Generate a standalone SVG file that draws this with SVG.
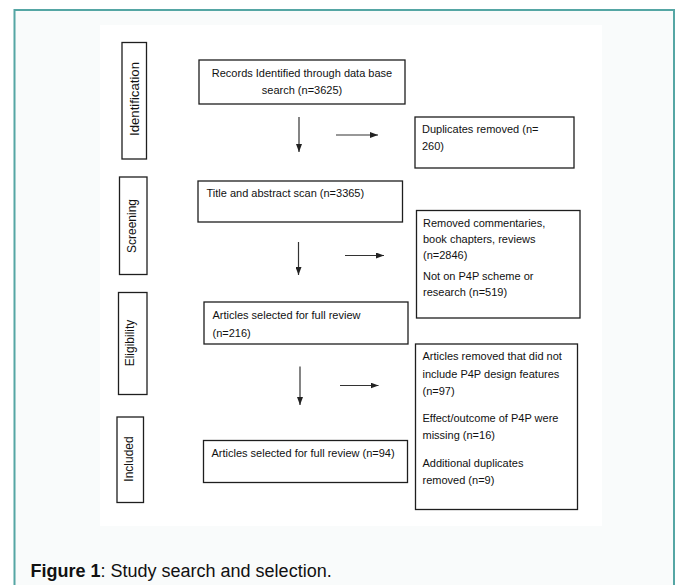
<svg xmlns="http://www.w3.org/2000/svg" width="678" height="585" viewBox="0 0 678 585">
  <style>
    .box { fill: #ffffff; stroke: #1e1e1e; stroke-width: 1.3; }
    .side { fill: #ffffff; stroke: #1e1e1e; stroke-width: 1.3; }
    .t { font-family: "Liberation Sans", Arial, sans-serif; font-size: 11px; fill: #111111; }
    .s { font-family: "Liberation Sans", Arial, sans-serif; font-size: 12px; fill: #111111; }
    .cap { font-family: "Liberation Sans", Arial, sans-serif; font-size: 18px; fill: #111111; }
    .arr { stroke: #333333; stroke-width: 1.2; fill: none; marker-end: url(#ah); }
  </style>
  <defs>
    <marker id="ah" viewBox="0 0 8 6" refX="8" refY="3" markerWidth="8" markerHeight="6" markerUnits="userSpaceOnUse" orient="auto">
      <path d="M0,0 L8,3 L0,6 z" fill="#222222"/>
    </marker>
  </defs>

  <rect x="0" y="0" width="678" height="585" fill="#ffffff"/>
  <g id="frame">
    <rect x="14.5" y="10" width="659.5" height="590" fill="#f9fbfb" stroke="#55a6a4" stroke-width="2"/>
    <rect x="100" y="25" width="502" height="501" fill="#ffffff"/>
  </g>

  <g id="stage-identification">
    <rect class="side" x="122" y="42.5" width="24.5" height="116.5"/>
    <text class="s" transform="translate(139,99) rotate(-90)" text-anchor="middle" textLength="74" lengthAdjust="spacingAndGlyphs">Identification</text>
  </g>
  <g id="stage-screening">
    <rect class="side" x="119.5" y="177" width="27.5" height="97.5"/>
    <text class="s" transform="translate(136,226) rotate(-90)" text-anchor="middle">Screening</text>
  </g>
  <g id="stage-eligibility">
    <rect class="side" x="118.5" y="292.5" width="28.5" height="102"/>
    <text class="s" transform="translate(134,343) rotate(-90)" text-anchor="middle">Eligibility</text>
  </g>
  <g id="stage-included">
    <rect class="side" x="117" y="417" width="26.5" height="85.5"/>
    <text class="s" transform="translate(132.5,459) rotate(-90)" text-anchor="middle">Included</text>
  </g>

  <g id="records">
    <rect class="box" x="199" y="60" width="206" height="44"/>
    <text class="t" x="302" y="77" text-anchor="middle">Records Identified through data base</text>
    <text class="t" x="302" y="94" text-anchor="middle">search (n=3625)</text>
  </g>
  <g id="duplicates">
    <rect class="box" x="415" y="117" width="159" height="51"/>
    <text class="t" x="422" y="133">Duplicates removed (n=</text>
    <text class="t" x="422" y="150">260)</text>
  </g>
  <g id="title-scan">
    <rect class="box" x="198" y="181" width="204.5" height="41"/>
    <text class="t" x="206.5" y="197">Title and abstract scan (n=3365)</text>
  </g>
  <g id="removed">
    <rect class="box" x="416.5" y="210.5" width="163.5" height="107.5"/>
    <text class="t" x="423" y="227">Removed commentaries,</text>
    <text class="t" x="423" y="243">book chapters, reviews</text>
    <text class="t" x="423" y="258.5">(n=2846)</text>
    <text class="t" x="423" y="280">Not on P4P scheme or</text>
    <text class="t" x="423" y="296">research (n=519)</text>
  </g>
  <g id="full-review-216">
    <rect class="box" x="204" y="302" width="204" height="42"/>
    <text class="t" x="212.5" y="318.5">Articles selected for full review</text>
    <text class="t" x="212.5" y="336.5">(n=216)</text>
  </g>
  <g id="articles-removed">
    <rect class="box" x="415.5" y="344" width="162" height="165.5"/>
    <text class="t" x="422.5" y="360">Articles removed that did not</text>
    <text class="t" x="422.5" y="377.5">include P4P design features</text>
    <text class="t" x="422.5" y="395">(n=97)</text>
    <text class="t" x="422.5" y="421.5">Effect/outcome of P4P were</text>
    <text class="t" x="422.5" y="439">missing (n=16)</text>
    <text class="t" x="422.5" y="466.5">Additional duplicates</text>
    <text class="t" x="422.5" y="484">removed (n=9)</text>
  </g>
  <g id="full-review-94">
    <rect class="box" x="203.5" y="440.5" width="204" height="42"/>
    <text class="t" x="211.5" y="456.5">Articles selected for full review (n=94)</text>
  </g>

  <g id="connectors">
    <path class="arr" d="M299,117 L299,152"/>
    <path class="arr" d="M336,135 L378,135"/>
    <path class="arr" d="M298.5,242 L298.5,275"/>
    <path class="arr" d="M345,255.5 L384,255.5"/>
    <path class="arr" d="M300,366.5 L300,405"/>
    <path class="arr" d="M340,385.5 L378.5,385.5"/>
  </g>

  <g id="caption">
    <text class="cap" x="30.5" y="577"><tspan font-weight="bold">Figure 1</tspan>: Study search and selection.</text>
  </g>
</svg>
